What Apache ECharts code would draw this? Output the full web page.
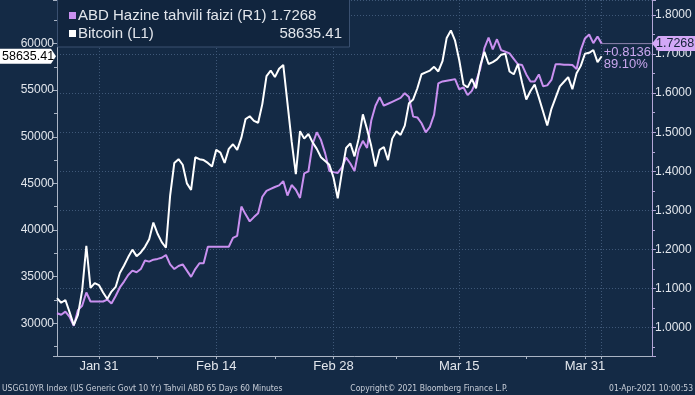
<!DOCTYPE html>
<html><head><meta charset="utf-8">
<script src="https://cdn.jsdelivr.net/npm/echarts@6/dist/echarts.min.js"></script>
<style>html,body{margin:0;padding:0;background:#142a45;}#c{width:695px;height:395px;}</style>
</head><body><div id="c"></div>
<script>
// Half-day steps starting Jan 26 2021 00:00
const monthNames = ['Jan','Feb','Mar','Apr'];
const categories = [];
for (let i = 0; i < 143; i++) {
  const d = new Date(Date.UTC(2021, 0, 26) + i * 12 * 3600e3);
  categories.push(monthNames[d.getUTCMonth()] + ' ' + d.getUTCDate() + ' ' + (d.getUTCHours() === 0 ? '00:00' : '12:00'));
}
// Bitcoin (L1)
const btc = [32700,32200,32500,31200,29800,30900,33500,38300,33800,34300,
34100,33300,32600,33400,33900,35400,36200,37100,37900,37200,
37600,38200,39000,40800,39600,38700,38100,43700,47200,47600,
47000,45000,44300,47800,47600,47500,47200,46800,48600,48300,
47200,48700,49200,48600,49900,51900,52200,51700,51500,53500,
56500,57100,56400,57300,57700,53600,49500,46000,50600,49800,
50300,49400,48700,47800,47400,47000,45600,43400,46200,48800,
49300,47900,49800,52400,50800,49000,46800,48600,48900,47500,
49800,50600,50200,51200,53600,54000,55200,56700,56900,57100,
57500,57000,58100,60600,61400,60300,58200,55600,55300,56200,
55200,57600,59100,57800,58000,58300,58800,58900,57000,56700,
57800,55800,54000,54900,55600,54200,52700,51200,53000,54200,
55400,55900,56400,55100,56800,57600,58900,59000,59300,58000,58635.41];
// US 10Y yield (R1)
const yld = [1.037,1.033,1.041,1.028,1.005,1.045,1.056,1.090,1.067,1.067,
1.067,1.067,1.072,1.062,1.081,1.103,1.118,1.135,1.146,1.142,
1.150,1.172,1.169,1.174,1.176,1.179,1.186,1.162,1.150,1.158,
1.162,1.146,1.130,1.150,1.165,1.165,1.207,1.207,1.207,1.207,
1.207,1.207,1.230,1.235,1.310,1.290,1.272,1.283,1.293,1.335,
1.350,1.355,1.360,1.364,1.375,1.338,1.365,1.353,1.332,1.395,
1.400,1.470,1.500,1.480,1.446,1.401,1.398,1.396,1.410,1.435,
1.420,1.401,1.455,1.478,1.460,1.530,1.568,1.590,1.568,1.573,
1.578,1.583,1.588,1.600,1.590,1.540,1.538,1.523,1.500,1.514,
1.545,1.625,1.630,1.632,1.634,1.636,1.610,1.615,1.595,1.606,
1.630,1.662,1.715,1.742,1.712,1.738,1.710,1.706,1.702,1.688,
1.674,1.672,1.648,1.630,1.630,1.648,1.618,1.620,1.634,1.674,
1.674,1.673,1.673,1.672,1.662,1.710,1.740,1.750,1.728,1.745,1.7268];
// x-axis tick labels (category -> text)
const xLabelCats = ['Jan 31 00:00','Feb 14 00:00','Feb 28 00:00','Mar 15 00:00','Mar 30 00:00'];
const xLabelTexts = ['Jan 31','Feb 14','Feb 28','Mar 15','Mar 31'];
const xExtraGridCats = ['Apr 1 00:00'];
const xMinorTickCats = ['Feb 7 00:00','Feb 21 00:00','Mar 7 12:00','Mar 23 00:00'];
const legendNames = ['ABD Hazine tahvili faizi (R1)','Bitcoin (L1)'];
const changeTexts = ['+0.8136','89.10%'];
const footerLeft = 'USGG10YR Index (US Generic Govt 10 Yr) Tahvil ABD 65 Days 60 Minutes';
const footerMid = 'Copyright\u00a9 2021 Bloomberg Finance L.P.';
const footerRight = '01-Apr-2021 10:00:53';

const BG = '#142a45', TXT = '#e2e6ec', GRID = '#3f5878', PURPLE = '#c990f0';
const FONT = '"Liberation Sans", Arial, sans-serif';
const NARROW = '"Liberation Sans Narrow", "DejaVu Sans Condensed", sans-serif';

const chart = echarts.init(document.getElementById('c'), null, {renderer: 'canvas'});
const isIn = (arr) => (i, v) => arr.indexOf(categories[i]) >= 0;
chart.setOption({
  backgroundColor: BG,
  animation: false,
  grid: {left: 57, right: 43, top: 0, bottom: 39},
  xAxis: {
    type: 'category', data: categories, boundaryGap: false,
    axisLine: {lineStyle: {color: '#aab4c4', width: 1}},
    axisTick: {show: true, length: 3, lineStyle: {color: '#aab4c4'},
      interval: isIn(xLabelCats.concat(xExtraGridCats, xMinorTickCats))},
    axisLabel: {color: TXT, fontSize: 13, fontFamily: FONT, margin: 4,
      interval: isIn(xLabelCats),
      formatter: (v) => { const k = xLabelCats.indexOf(v); return k >= 0 ? xLabelTexts[k] : ''; }},
    splitLine: {show: true, interval: isIn(xLabelCats.concat(xExtraGridCats)),
      lineStyle: {color: GRID, type: [1, 2], width: 1}}
  },
  yAxis: [{
    type: 'value', position: 'left', min: 26494, max: 64664, splitNumber: 8,
    axisLine: {show: true, lineStyle: {color: '#aab4c4'}},
    axisTick: {show: true, length: 4, lineStyle: {color: '#aab4c4'}},
    minorTick: {show: true, splitNumber: 2, length: 3, lineStyle: {color: '#aab4c4'}},
    axisLabel: {color: TXT, fontSize: 12, fontFamily: FONT, margin: 3, showMinLabel: false, showMaxLabel: false,
      formatter: (v) => String(Math.round(v))},
    splitLine: {show: false}
  }, {
    type: 'value', position: 'right', min: 0.9276, max: 1.8384, splitNumber: 9,
    axisLine: {show: true, lineStyle: {color: '#b3a6d6'}},
    axisTick: {show: true, length: 4, lineStyle: {color: '#b3a6d6'}},
    minorTick: {show: true, splitNumber: 2, length: 3, lineStyle: {color: '#b3a6d6'}},
    axisLabel: {color: TXT, fontSize: 12, fontFamily: FONT, margin: 3, showMinLabel: false, showMaxLabel: false,
      formatter: (v) => v.toFixed(4)},
    splitLine: {show: true, lineStyle: {color: GRID, type: [1, 2], width: 1}}
  }],
  series: [{
    type: 'line', name: legendNames[0], yAxisIndex: 1, data: yld, showSymbol: false, z: 2,
    lineStyle: {color: PURPLE, width: 2}
  }, {
    type: 'line', name: legendNames[1], yAxisIndex: 0, data: btc, showSymbol: false, z: 3,
    lineStyle: {color: '#ffffff', width: 2}
  }]
});

const lastIdx = btc.length - 1;
const lastB = btc[lastIdx], lastY = yld[yld.length - 1];
const xLast = chart.convertToPixel({xAxisIndex: 0}, lastIdx);
const yB = chart.convertToPixel({yAxisIndex: 0}, lastB);
const yY = chart.convertToPixel({yAxisIndex: 1}, lastY);
const gridRight = 695 - 43;

chart.setOption({graphic: [
  // legend box
  {type: 'rect', shape: {x: 57.5, y: -1, width: 292, height: 48}, style: {fill: '#11253e', stroke: '#3a5070', lineWidth: 1}, z: 10},
  {type: 'rect', shape: {x: 69, y: 12, width: 7, height: 7}, style: {fill: PURPLE}, z: 11},
  {type: 'text', x: 78, y: 16, style: {text: legendNames[0] + ' ' + lastY.toFixed(4), fill: TXT, font: '15px ' + FONT, verticalAlign: 'middle'}, z: 11},
  {type: 'rect', shape: {x: 69, y: 30, width: 7, height: 7}, style: {fill: '#ffffff'}, z: 11},
  {type: 'text', x: 78, y: 34, style: {text: legendNames[1], fill: TXT, font: '15px ' + FONT, verticalAlign: 'middle'}, z: 11},
  {type: 'text', x: 342, y: 34, style: {text: lastB.toFixed(2), fill: TXT, font: '15px ' + FONT, align: 'right', verticalAlign: 'middle'}, z: 11},
  // last-value line to right axis
  {type: 'line', shape: {x1: xLast, y1: yY, x2: gridRight, y2: yY}, style: {stroke: '#8f86b0', lineWidth: 1}, z: 5},
  // change annotation
  {type: 'text', x: xLast + 2, y: yY + 9, style: {text: changeTexts[0], fill: '#c9a6ee', font: '13px ' + FONT, verticalAlign: 'middle'}, z: 6},
  {type: 'text', x: xLast + 2, y: yY + 21, style: {text: changeTexts[1], fill: '#c9a6ee', font: '13px ' + FONT, verticalAlign: 'middle'}, z: 6},
  // right tag
  {type: 'polygon', shape: {points: [[gridRight, yY], [gridRight + 6, yY - 7.5], [695, yY - 7.5], [695, yY + 7.5], [gridRight + 6, yY + 7.5]]}, style: {fill: '#d3a8f6'}, z: 12},
  {type: 'text', x: 656, y: yY, style: {text: lastY.toFixed(4), fill: '#14233a', font: '12.5px ' + FONT, verticalAlign: 'middle'}, z: 13},
  // left tag
  {type: 'polygon', shape: {points: [[0, yB - 7.5], [51, yB - 7.5], [56, yB], [51, yB + 7.5], [0, yB + 7.5]]}, style: {fill: '#ffffff'}, z: 12},
  {type: 'text', x: 2, y: yB, style: {text: lastB.toFixed(2), fill: '#000000', font: '12.5px ' + FONT, verticalAlign: 'middle'}, z: 13},
  // footer
  {type: 'text', x: 2, y: 389, style: {text: footerLeft, fill: '#c8ced8', font: '8.5px ' + NARROW, verticalAlign: 'middle'}},
  {type: 'text', x: 429, y: 389, style: {text: footerMid, fill: '#c8ced8', font: '8.5px ' + NARROW, align: 'center', verticalAlign: 'middle'}},
  {type: 'text', x: 693, y: 389, style: {text: footerRight, fill: '#c8ced8', font: '8.5px ' + NARROW, align: 'right', verticalAlign: 'middle'}}
]});
</script>
</body></html>
